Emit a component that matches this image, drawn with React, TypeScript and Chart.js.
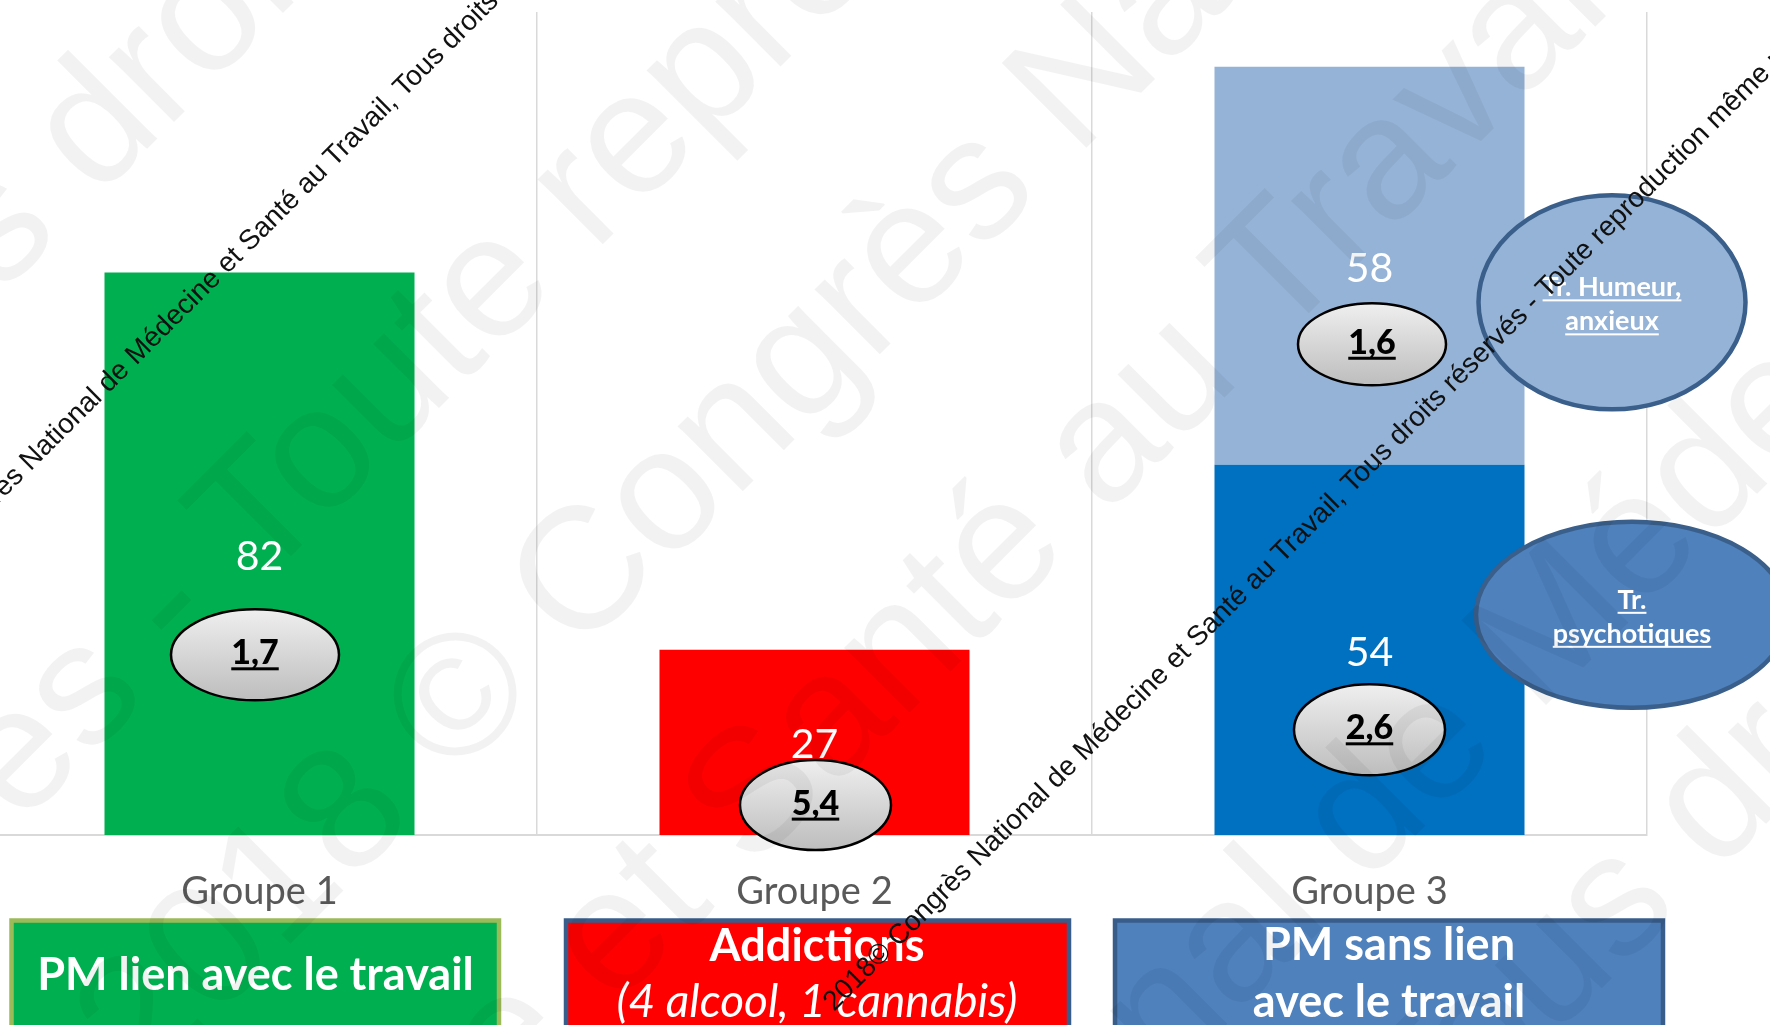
import React, { useEffect, useRef } from "react";
import { Chart, registerables } from "chart.js";

Chart.register(...registerables);

// ---------- data ----------
const categories = ["Groupe 1", "Groupe 2", "Groupe 3"];
const seriesNames = ["PM lien avec le travail", "Addictions", "Tr. psychotiques", "Tr. Humeur, anxieux"];
const travailValues = [82, null, null];
const addictionValues = [null, 27, null];
const psychotiquesValues = [null, null, 54];
const humeurValues = [null, null, 58];
const ratioLabels = ["1,7", "5,4", "2,6", "1,6"]; // one per series
const yMax = 120;
const groupTitles = [
  ["PM lien avec le travail"],
  ["Addictions", "(4 alcool, 1 cannabis)"],
  ["PM sans lien", "avec le travail"],
];
const bubbleLabels = [
  ["Tr.", "psychotiques"],
  ["Tr. Humeur,", "anxieux"],
];
const watermarkText =
  "2018 © Congrès National de Médecine et Santé au Travail, Tous droits réservés - Toute reproduction même partielle interdite";
const copyrightText =
  "2018© Congrès National de Médecine et Santé au Travail, Tous droits réservés - Toute reproduction même partielle interdite";

// ---------- layout / style ----------
const SHIFT = 18; // the first category starts slightly left of the page edge
const CANVAS_W = 1788;
const CANVAS_H = 1025;
const COLORS = ["#00b050", "#ff0000", "#0070c0", "#95b3d7"];
const FONT = "Lato, 'Open Sans', sans-serif";

// ellipse annotations placed relative to each bar's centre
const ratioStyle = [
  { dx: -4.5, dy: 101, rx: 84, ry: 45.5 },
  { dx: 1, dy: 62.7, rx: 75.5, ry: 45 },
  { dx: 0, dy: 80, rx: 75.5, ry: 45.5 },
  { dx: 2.5, dy: 78.5, rx: 74, ry: 41 },
];
// big bubbles next to the stacked bar (dataset index, offsets)
const bubbleStyle = [
  { ds: 2, dx: 262.5, dy: -35, rx: 156, ry: 93, fill: "#4f81bd" },
  { ds: 3, dx: 242.5, dy: 36.6, rx: 133.5, ry: 107, fill: "#95b3d7" },
];
// boxes under the categories (relative to category centre)
const boxStyle = [
  { dx: -4.25, w: 487.5, fill: "#00b050", stroke: "#9bbb59", textDx: -4, baselines: [989.5], fonts: ["bold"] },
  { dx: 3, w: 503, fill: "#ff0000", stroke: "#385d8a", textDx: 2.5, baselines: [961, 1017], fonts: ["bold", "italic"] },
  { dx: 19.5, w: 548, fill: "#4f81bd", stroke: "#385d8a", textDx: 19.5, baselines: [960, 1017], fonts: ["bold", "bold"] },
];
// big faint watermark lines: anchor phrase + page position of its baseline start
const watermarkLines = [
  { anchor: "droits", x: 97, y: 199 },
  { anchor: "Toute", x: 259, y: 588 },
  { anchor: "Congrès", x: 577, y: 657 },
  { anchor: "au Travail", x: 1106, y: 516 },
  { anchor: "de Médecine", x: 1365, y: 886 },
  { anchor: "droits", x: 1716, y: 874 },
];
const copyrightLines = [
  { x: -114, y: 616 },
  { x: 834, y: 1012 },
];

function drawCenteredText(ctx: CanvasRenderingContext2D, text: string, cx: number, cy: number) {
  const m = ctx.measureText(text);
  ctx.textAlign = "center";
  ctx.textBaseline = "alphabetic";
  const asc = m.actualBoundingBoxAscent;
  const desc = m.actualBoundingBoxDescent;
  ctx.fillText(text, cx, cy + (asc - desc) / 2);
  return { width: m.width, baseline: cy + (asc - desc) / 2 };
}

function underline(ctx: CanvasRenderingContext2D, cx: number, baseline: number, width: number, thick: number, gap: number) {
  ctx.fillRect(cx - width / 2, baseline + gap, width, thick);
}

function ellipsePath(ctx: CanvasRenderingContext2D, cx: number, cy: number, rx: number, ry: number) {
  ctx.beginPath();
  ctx.ellipse(cx, cy, rx, ry, 0, 0, Math.PI * 2);
}

function drawRotated(ctx: CanvasRenderingContext2D, full: string, anchorIdx: number, x: number, y: number) {
  ctx.save();
  ctx.translate(x, y);
  ctx.rotate(-Math.PI / 4);
  ctx.textAlign = "left";
  ctx.textBaseline = "alphabetic";
  const pre = ctx.measureText(full.slice(0, anchorIdx)).width;
  ctx.fillText(full, -pre, 0);
  ctx.restore();
}

const overlayPlugin = {
  id: "overlay",
  afterDatasetsDraw(chart: any) {
    const ctx: CanvasRenderingContext2D = chart.ctx;
    ctx.save();
    chart.data.datasets.forEach((ds: any, di: number) => {
      const meta = chart.getDatasetMeta(di);
      meta.data.forEach((el: any, i: number) => {
        const v = ds.data[i];
        if (v == null) return;
        const { x, y, base } = el.getProps(["x", "y", "base"], true);
        const cy = (y + base) / 2;
        // value label
        ctx.fillStyle = "#ffffff";
        ctx.font = `41px ${FONT}`;
        drawCenteredText(ctx, String(v), x, cy + 1.5);
        // ratio ellipse
        const st = ratioStyle[di];
        const ex = x + st.dx;
        const ey = cy + st.dy;
        const g = ctx.createLinearGradient(0, ey - st.ry, 0, ey + st.ry);
        g.addColorStop(0, "#efefef");
        g.addColorStop(1, "#bdbdbd");
        ellipsePath(ctx, ex, ey, st.rx, st.ry);
        ctx.fillStyle = g;
        ctx.fill();
        ctx.lineWidth = 2.5;
        ctx.strokeStyle = "#000000";
        ctx.stroke();
        ctx.fillStyle = "#000000";
        ctx.font = `900 34px ${FONT}`;
        const r = drawCenteredText(ctx, ratioLabels[di], ex, ey);
        underline(ctx, ex, r.baseline, r.width, 3, 3);
      });
    });
    // bubbles
    bubbleStyle.forEach((b, bi) => {
      const meta = chart.getDatasetMeta(b.ds);
      const ds = chart.data.datasets[b.ds];
      const idx = ds.data.findIndex((v: any) => v != null);
      const el = meta.data[idx];
      const { x, y, base } = el.getProps(["x", "y", "base"], true);
      const cx = x + b.dx;
      const cy = (y + base) / 2 + b.dy;
      ellipsePath(ctx, cx, cy, b.rx, b.ry);
      ctx.fillStyle = b.fill;
      ctx.fill();
      ctx.lineWidth = 4.5;
      ctx.strokeStyle = "#3a5f8b";
      ctx.stroke();
      ctx.fillStyle = "#ffffff";
      ctx.font = `bold 27px ${FONT}`;
      ctx.textAlign = "center";
      ctx.textBaseline = "alphabetic";
      const lines = bubbleLabels[bi];
      const offs = [-6, 28];
      lines.forEach((t, li) => {
        const w = ctx.measureText(t).width;
        ctx.fillText(t, cx, cy + offs[li]);
        underline(ctx, cx, cy + offs[li], w, 2, 3);
      });
    });
    ctx.restore();
  },
  afterDraw(chart: any) {
    const ctx: CanvasRenderingContext2D = chart.ctx;
    const xs = chart.scales.x;
    ctx.save();
    // boxes under categories
    categories.forEach((_, i) => {
      const st = boxStyle[i];
      const c = xs.getPixelForValue(i);
      const left = c + st.dx - st.w / 2;
      ctx.fillStyle = st.fill;
      ctx.fillRect(left, 920.5, st.w, 130);
      ctx.lineWidth = 4.5;
      ctx.strokeStyle = st.stroke;
      ctx.strokeRect(left, 920.5, st.w, 130);
      ctx.fillStyle = "#ffffff";
      ctx.textAlign = "center";
      ctx.textBaseline = "alphabetic";
      groupTitles[i].forEach((t, li) => {
        const style = st.fonts[li];
        ctx.font = style === "italic" ? `italic 46px ${FONT}` : `bold 45px ${FONT}`;
        ctx.fillText(t, c + st.textDx, st.baselines[li]);
      });
    });
    // faint watermark
    ctx.translate(SHIFT, 0);
    ctx.fillStyle = "rgba(0,0,0,0.05)";
    ctx.font = `174px 'Liberation Sans', Arial, sans-serif`;
    const rep = watermarkText + " " + watermarkText + " " + watermarkText;
    watermarkLines.forEach((l) => {
      const idx = watermarkText.length + 1 + watermarkText.indexOf(l.anchor);
      drawRotated(ctx, rep, idx, l.x, l.y);
    });
    // black copyright lines
    ctx.fillStyle = "#111111";
    ctx.font = `28px 'Liberation Sans', Arial, sans-serif`;
    copyrightLines.forEach((l) => drawRotated(ctx, copyrightText, 0, l.x, l.y));
    ctx.restore();
  },
};

export default function App() {
  const ref = useRef<HTMLCanvasElement>(null);
  useEffect(() => {
    document.body.style.margin = "0";
    document.body.style.overflow = "hidden";
    const chart = new Chart(ref.current as HTMLCanvasElement, {
      type: "bar",
      data: {
        labels: categories,
        datasets: [
          { label: seriesNames[0], data: travailValues, backgroundColor: COLORS[0] },
          { label: seriesNames[1], data: addictionValues, backgroundColor: COLORS[1] },
          { label: seriesNames[2], data: psychotiquesValues, backgroundColor: COLORS[2] },
          { label: seriesNames[3], data: humeurValues, backgroundColor: COLORS[3] },
        ] as any,
      },
      options: {
        responsive: false,
        animation: false,
        layout: { padding: { top: 12, right: 123, left: 0, bottom: 0 } },
        datasets: { bar: { barPercentage: 0.5586, categoryPercentage: 1 } },
        plugins: { legend: { display: false }, tooltip: { enabled: false } },
        scales: {
          x: {
            stacked: true,
            grid: { color: "#d9d9d9", lineWidth: 1.5, drawTicks: false, offset: true },
            border: { color: "#d9d9d9", width: 2 },
            ticks: { color: "#595959", font: { family: FONT, size: 38 }, padding: 34 },
            afterFit: (s: any) => {
              s.height = 190;
            },
          },
          y: { stacked: true, min: 0, max: yMax, display: false },
        },
      } as any,
      plugins: [overlayPlugin],
    });
    return () => chart.destroy();
  }, []);
  return (
    <div style={{ position: "fixed", left: -SHIFT, top: 0, width: CANVAS_W, height: CANVAS_H }}>
      <canvas ref={ref} width={CANVAS_W} height={CANVAS_H} style={{ display: "block", width: CANVAS_W, height: CANVAS_H }} />
    </div>
  );
}
